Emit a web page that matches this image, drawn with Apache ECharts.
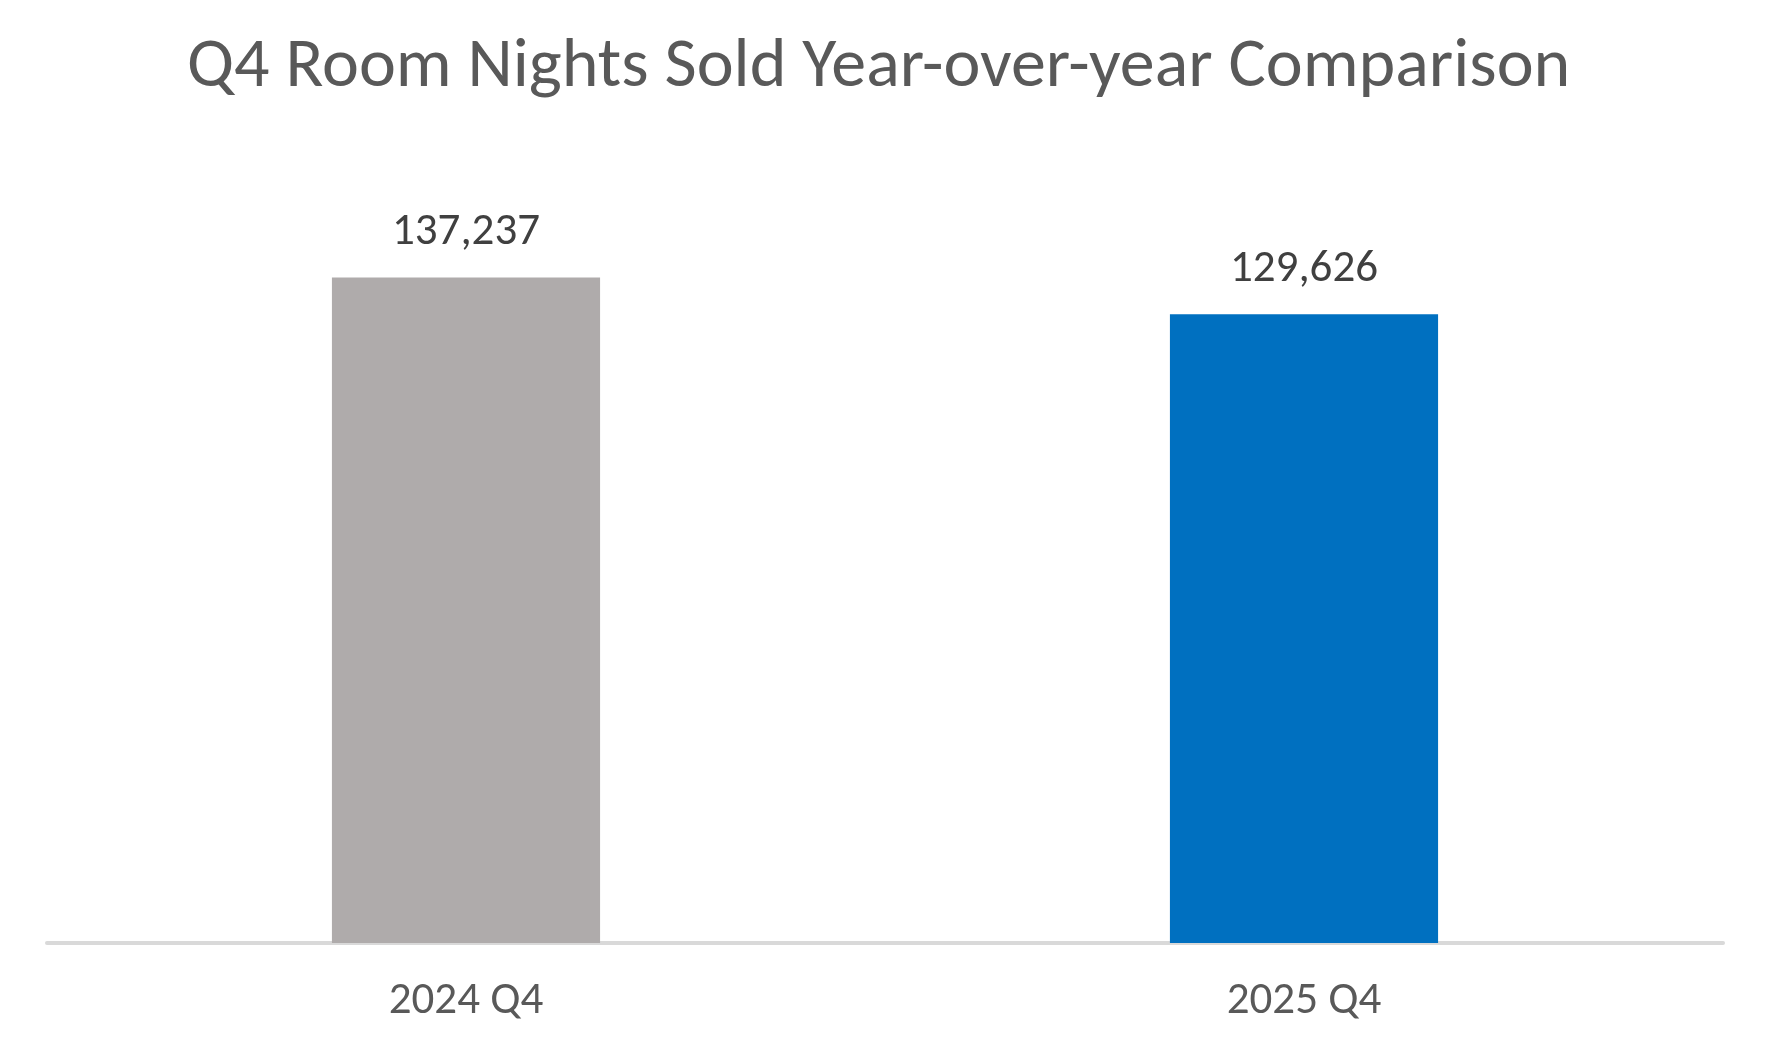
<!DOCTYPE html>
<html>
<head>
<meta charset="utf-8">
<script src="https://cdn.jsdelivr.net/npm/echarts@6/dist/echarts.min.js"></script>
<style>html,body{margin:0;padding:0;background:#fff;}#c{width:1775px;height:1057px;}</style>
</head>
<body>
<div id="c"></div>
<script>
const categories = ['2024 Q4', '2025 Q4'];
const roomNights = [137237, 129626];
const barColors = ['#AFABAB', '#0070C0'];
const titleText = 'Q4 Room Nights Sold Year-over-year Comparison';

const FONT = 'Carlito, "Open Sans", sans-serif';
const chart = echarts.init(document.getElementById('c'));
chart.setOption({
  backgroundColor: '#ffffff',
  animation: false,
  title: {
    text: titleText,
    left: 182,
    top: 28,
    textStyle: { fontFamily: FONT, fontSize: 70, fontWeight: 'normal', color: '#595959' }
  },
  grid: { left: 47, right: 52, top: 167, bottom: 114, containLabel: false },
  xAxis: {
    type: 'category',
    data: categories,
    axisLine: { lineStyle: { color: '#D9D9D9', width: 4 } },
    axisTick: { show: false },
    axisLabel: { fontFamily: FONT, fontSize: 45, color: '#595959', margin: 36 }
  },
  yAxis: {
    type: 'value',
    min: 0,
    max: 160000,
    show: false,
    splitLine: { show: false }
  },
  series: [{
    type: 'bar',
    data: roomNights.map((v, i) => ({ value: v, itemStyle: { color: barColors[i] } })),
    barWidth: '32%',
    label: {
      show: true,
      position: 'top',
      distance: 22,
      fontFamily: FONT,
      fontSize: 45,
      color: '#404040',
      formatter: p => p.value.toLocaleString('en-US')
    }
  }]
});
</script>
</body>
</html>
